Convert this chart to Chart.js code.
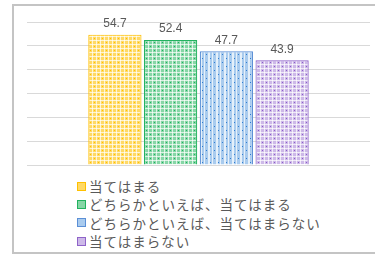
<!DOCTYPE html>
<html><head><meta charset="utf-8">
<script src="https://cdn.jsdelivr.net/npm/chart.js@4.4.1/dist/chart.umd.min.js"></script>
<style>
html,body{margin:0;padding:0;background:#fff;width:375px;height:258px;overflow:hidden;}
#frame{position:absolute;left:12px;top:4px;width:380px;height:250px;border:2px solid #c4c4c4;box-sizing:border-box;}
#wrap{position:absolute;left:0;top:0;width:375px;height:172px;}
#legend{position:absolute;left:77px;top:177px;font-family:"Noto Sans CJK JP",sans-serif;font-size:13.5px;color:#595959;letter-spacing:1px;}
.item{height:18.4px;line-height:18.4px;white-space:nowrap;display:flex;align-items:center;}
.sw{width:7px;height:7px;border:1.5px solid;margin-right:3px;flex:none;}
</style></head>
<body>
<div id="frame"></div>
<div id="wrap"><canvas id="c"></canvas></div>
<div id="legend"></div>
<script>
const categories = [""];
const seriesNames = ["当てはまる","どちらかといえば、当てはまる","どちらかといえば、当てはまらない","当てはまらない"];
const seriesValues = [[54.7],[52.4],[47.7],[43.9]];
const tickValues = [0,10,20,30,40,50,60];

const baseColors = ["#FFD966","#86D6A6","#A9CBEE","#CDB9E8"];
const dotColors  = ["#FFC000","#1DB060","#2E7CD0","#8A5CC8"];
const borderColors = ["#FFC000","#22B25F","#5B8FD6","#8E63C9"];

function makePattern(i){
  const c=document.createElement('canvas'); c.width=8; c.height=8;
  const x=c.getContext('2d');
  x.fillStyle=baseColors[i]; x.fillRect(0,0,8,8);
  x.fillStyle='rgba(255,255,255,0.7)';
  if(i===2){ x.fillRect(0,0,2,8); x.fillRect(4,0,1,8); }
  else { x.fillRect(0,0,8,1); x.fillRect(0,0,1,8); x.fillRect(4,0,1,8); x.fillRect(0,4,8,1); }
  x.fillStyle=dotColors[i];
  x.fillRect(2,2,1,1); x.fillRect(6,6,1,1);
  return x.createPattern(c,'repeat');
}

const labelPlugin={id:'vals',afterDatasetsDraw(chart){
  const ctx=chart.ctx; ctx.save();
  ctx.font='12px "Liberation Sans", Arial, sans-serif'; ctx.fillStyle='#595959';
  ctx.textAlign='center'; ctx.textBaseline='bottom';
  chart.data.datasets.forEach((ds,di)=>{
    chart.getDatasetMeta(di).data.forEach((bar,j)=>{
      ctx.fillText(ds.data[j].toFixed(1), bar.x, bar.y-5);
    });
  });
  ctx.restore();
}};

new Chart(document.getElementById('c'),{
  type:'bar',
  data:{labels:categories,datasets:seriesNames.map((n,i)=>({
    label:n,data:seriesValues[i],backgroundColor:makePattern(i),
    borderColor:borderColors[i],borderWidth:1.2,
    categoryPercentage:0.65,barPercentage:0.955
  }))},
  options:{
    responsive:true,maintainAspectRatio:false,animation:false,
    layout:{padding:{left:27,right:5,top:22,bottom:7}},
    plugins:{legend:{display:false},tooltip:{enabled:false}},
    scales:{
      x:{display:false},
      y:{min:0,max:60,afterBuildTicks(a){a.ticks=tickValues.map(v=>({value:v}));},
         grid:{color:'#d9d9d9',lineWidth:1,drawTicks:false},ticks:{display:false},border:{display:false}}
    }
  },
  plugins:[labelPlugin]
});

const lg=document.getElementById('legend');
seriesNames.forEach((n,i)=>{
  const d=document.createElement('div'); d.className='item';
  const s=document.createElement('span'); s.className='sw';
  s.style.borderColor=borderColors[i]; s.style.background=baseColors[i];
  d.appendChild(s); d.appendChild(document.createTextNode(n)); lg.appendChild(d);
});
</script>
</body></html>
